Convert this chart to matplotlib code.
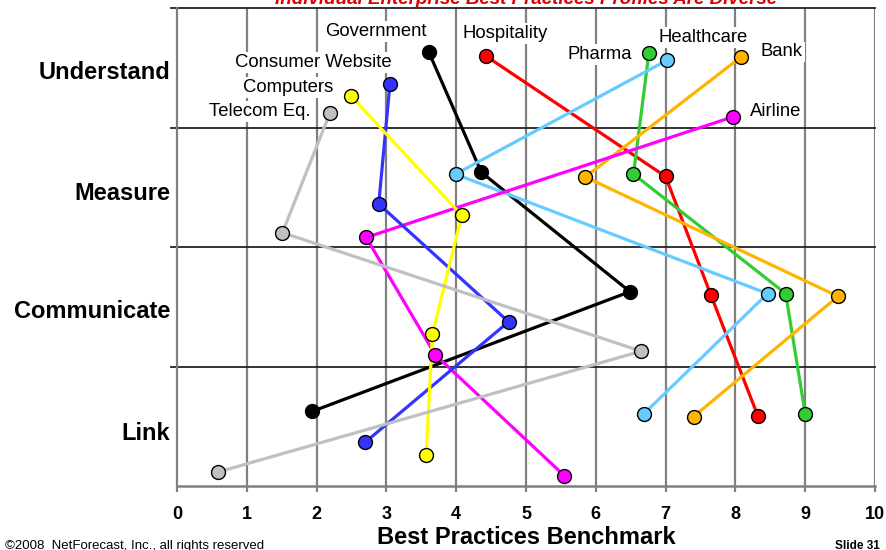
import matplotlib
matplotlib.use("Agg")
import matplotlib.pyplot as plt

plt.rcParams['font.family'] = ['Liberation Sans', 'DejaVu Sans']

# stages, bottom to top
stages = ['Link', 'Communicate', 'Measure', 'Understand']
stage_centers = [0.46, 1.48, 2.47, 3.48]

industries = ['Government', 'Hospitality', 'Pharma', 'Healthcare', 'Bank',
              'Airline', 'Consumer Website', 'Computers', 'Telecom Eq.']
colors = ['#000000', '#FF0000', '#33CC33', '#66CCFF', '#FFB400',
          '#FF00FF', '#3333FF', '#FFFF00', '#C0C0C0']

# benchmark score per stage: Understand, Measure, Communicate, Link
scores = [
    [3.61, 4.36, 6.49, 1.94],
    [4.42, 7.00, 7.65, 8.32],
    [6.76, 6.54, 8.72, 9.00],
    [7.02, 3.99, 8.46, 6.69],
    [8.08, 5.85, 9.47, 7.40],
    [7.97, 2.71, 3.70, 5.55],
    [3.05, 2.89, 4.75, 2.70],
    [2.49, 4.08, 3.66, 3.57],
    [2.19, 1.51, 6.65, 0.59],
]
# vertical level of each point (stage band + row inside band)
levels = [
    [3.628, 2.625, 1.626, 0.625],
    [3.600, 2.590, 1.596, 0.589],
    [3.620, 2.610, 1.610, 0.605],
    [3.563, 2.610, 1.610, 0.605],
    [3.590, 2.586, 1.587, 0.580],
    [3.090, 2.080, 1.098, 0.086],
    [3.360, 2.360, 1.374, 0.368],
    [3.265, 2.265, 1.276, 0.262],
    [3.120, 2.120, 1.128, 0.117],
]
# label offset from first point, in pixels
label_offsets = [(-53, 21), (20, 22), (-49, -1), (36, 23), (41, 5),
                 (42, 5), (-77, 22), (-63, 8), (-70, 2)]

fig = plt.figure(figsize=(8.86, 5.5), dpi=100)
ax = fig.add_axes([177/886, 64/550, 698/886, 478/550])

ax.set_xlim(0, 10)
ax.set_ylim(0, 4)

# vertical grid
for x in range(1, 11):
    ax.axvline(x, color='#808080', lw=1.6, zorder=0)
# horizontal stage separators
for y in [1, 2, 3, 4]:
    ax.axhline(y, xmin=-0.008, xmax=1, color='#222222', lw=1.3, zorder=0.5, clip_on=False)

for spine in ['top', 'right']:
    ax.spines[spine].set_visible(False)
ax.spines['left'].set_color('#808080')
ax.spines['left'].set_linewidth(1.6)
ax.spines['bottom'].set_color('#808080')
ax.spines['bottom'].set_linewidth(1.8)

# lines first, markers on top
for xs, ys, c in zip(scores, levels, colors):
    ax.plot(xs, ys, color=c, lw=2.3, zorder=2, solid_capstyle='round')
for xs, ys, c in zip(scores, levels, colors):
    ax.plot(xs, ys, 'o', color=c, ms=10, mec='black', mew=1.0, zorder=3, clip_on=False)

for name, xs, ys, off in zip(industries, scores, levels, label_offsets):
    ax.annotate(name, xy=(xs[0], ys[0]), xytext=off, textcoords='offset pixels',
                ha='center', va='center', fontsize=13.3, zorder=1.5,
                bbox=dict(boxstyle='square,pad=0.1', fc='white', ec='none'))

ax.set_xticks(range(0, 11))
ax.set_xticklabels([str(i) for i in range(0, 11)], fontsize=13, fontweight='bold')
ax.tick_params(axis='x', direction='out', length=4.5, width=1.6, color='#808080', pad=10)

ax.set_yticks(stage_centers)
ax.set_yticklabels(stages, fontsize=17, fontweight='bold')
ax.tick_params(axis='y', length=0, pad=5)

fig.text(526/886, 1 - 537/550, 'Best Practices Benchmark', ha='center', va='center',
         fontsize=17, fontweight='bold')

fig.text(526/886, 1 - 4/550, 'Individual Enterprise Best Practices Profiles Are Diverse',
         ha='center', va='baseline', fontsize=13.5, fontweight='bold', style='italic',
         color='#DD0000')

fig.text(5/886, 1 - 546/550, '\u00a92008  NetForecast, Inc., all rights reserved',
         ha='left', va='center', fontsize=9.5)
fig.text(880/886, 1 - 546/550, 'Slide 31', ha='right', va='center',
         fontsize=8.5, fontweight='bold')

fig.savefig('out.png', dpi=100)
